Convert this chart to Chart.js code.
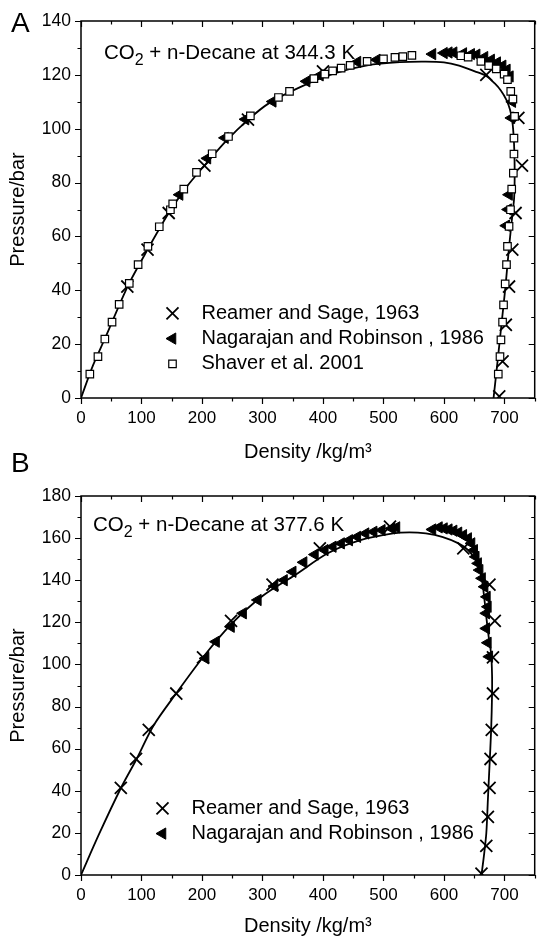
<!DOCTYPE html>
<html>
<head>
<meta charset="utf-8">
<script src="https://cdn.jsdelivr.net/npm/chart.js@4.4.1/dist/chart.umd.min.js"></script>
<style>
    html, body { margin: 0; padding: 0; background: #fff; }
    body { width: 545px; height: 938px; position: relative; overflow: hidden;
           font-family: Arial, "Liberation Sans", sans-serif; }
    canvas { position: absolute; left: 0; }
    #chartA { top: 0; }
    #chartB { top: 465px; }
    .panel-tag { position: absolute; left: 11px; font-size: 28px; line-height: 1; color: #000; }
</style>
</head>
<body>

<canvas id="chartA" width="545" height="465"></canvas>
<canvas id="chartB" width="545" height="473"></canvas>
<div class="panel-tag" style="top:9px">A</div>
<div class="panel-tag" style="top:449px">B</div>

<script>
"use strict";

/*==========================================================
    DATA
==========================================================*/

// Panel A — 344.3 K
const reamerA_density  = [76.6, 110, 145, 204, 276, 400, 670, 723, 729, 718.4, 713, 707.6, 702.3, 696.9, 691.4];
const reamerA_pressure = [41.4, 55.1, 68.7, 86.3, 103.4, 121.3, 120, 104, 86.3, 68.7, 55.1, 41.4, 27.2, 13.6, 0.6];

const nagarajanA_density  = [163, 209, 238, 272, 317, 373, 395, 457, 489,
                             581, 600, 608, 616, 632, 645, 654, 667, 678, 688, 697, 704, 709, 713, 711.5, 707.6, 706, 703];
const nagarajanA_pressure = [75.5, 89, 96.6, 103.5, 110.1, 117.6, 119.8, 124.8, 125.6,
                             127.7, 128.1, 128.3, 128.3, 128, 127.7, 127.5, 126.6, 125.6, 124.6, 123.4, 121.9, 119.4, 110, 104, 75.5, 70, 64];

const shaverA_density  = [14.6, 28, 39.4, 51.3, 63.1, 79.8, 94.4, 110.6, 129.4, 147.8, 151.6, 169.9, 190.9, 216.8, 243.8,
                          280, 326.4, 344.7, 385, 403, 416, 430, 445, 473, 500, 519, 532, 547,
                          628, 640, 661, 674, 686.5, 699.5, 705, 710.4, 714, 716.8, 715.7, 715.7, 714.7, 712,
                          710, 707.6, 705, 703.4, 701.2, 698.5, 696.9, 694.2, 692.6, 689.8];
const shaverA_pressure = [8.9, 15.4, 21.9, 28.2, 34.8, 42.6, 49.5, 56.3, 63.6, 69.9, 72.1, 77.6, 83.8, 90.7, 97.1,
                          104.8, 111.6, 113.9, 118.6, 120.3, 121.5, 122.5, 123.5, 125, 125.9, 126.5, 126.8, 127.2,
                          127.1, 126.6, 125, 123.4, 122.2, 120.3, 118.2, 113.9, 111, 104.6, 96.5, 90.6, 83.5, 77.6,
                          69.9, 63.7, 56.3, 49.5, 42.4, 34.6, 28.2, 21.6, 15.4, 8.9];

const modelA_density  = [0, 20, 40, 77, 110, 145, 175, 204, 240, 276, 311, 365, 419, 473, 527, 570, 600, 625, 651,
                         670, 684, 694, 703, 709, 713, 715.5, 716.7, 716.8, 715.9, 713.1, 707.2, 701.6, 695, 688.6, 682];
const modelA_pressure = [0, 12.2, 22.3, 41.4, 55.1, 68.7, 78.5, 86.3, 95.5, 103.3, 109.5, 115.7, 120.5, 123.5, 124.7, 124.9, 124.6, 123.4, 121.3,
                         119.6, 116.8, 114.2, 110.8, 107.2, 102.8, 96, 88, 80, 74, 68, 55.1, 41.2, 27.2, 13.6, 0];

// Panel B — 377.6 K
const reamerB_density  = [65.8, 91, 112, 157.5, 201.7, 248, 316.6, 394.8, 510.8,
                          632, 675.2, 684, 681, 681, 679, 677, 675.4, 672.6, 670, 662];
const reamerB_pressure = [41.4, 55.1, 68.9, 86.2, 103.4, 120.7, 137.9, 155.1, 165.5,
                          155.1, 137.9, 120.7, 103.4, 86.2, 68.9, 55.1, 41.4, 27.6, 13.8, 0.6];

const nagarajanB_density  = [206, 223.3, 248, 268, 292.4, 320, 335.6, 350, 368, 386.7, 403, 416.3, 430, 443.4, 456.8, 470.4, 483.8, 497.3, 513.4, 521.5,
                             581, 591.7, 600, 608, 616, 624, 632, 640, 645.6, 650, 652.6, 656.5, 659, 663, 667.2, 671, 672.6, 670, 670, 672.6, 675];
const nagarajanB_pressure = [102.9, 110.8, 117.9, 124.3, 130.6, 137.2, 140, 144, 148.5, 152.2, 154.3, 155.9, 157.5, 159, 160.6, 162.2, 163, 163.8, 164.6, 165.1,
                             164.1, 165.1, 164.6, 164.1, 163.5, 162.6, 161.4, 159.9, 157.5, 154.3, 151.1, 148, 144.8, 140.9, 136.9, 132.1, 127.4, 124.3, 117.1, 110.3, 103.7];

const modelB_density  = [0, 30, 65.8, 91, 120, 157.5, 201.7, 248, 300, 354, 408, 462, 516, 543, 570, 597, 624, 640, 654, 662,
                         667, 670, 674, 678, 679.5, 679.5, 678, 675.2, 672.6, 670, 666, 662];
const modelB_pressure = [0, 19.5, 41.2, 54.6, 71, 86.3, 103.4, 119, 132.5, 142.5, 152.8, 159, 162.2, 162.7, 162.2, 160.6, 157.5, 154.3, 148.8, 141.6,
                         130.6, 122.6, 113, 105, 95, 86, 68.9, 51.4, 35.6, 19.8, 9, 0];

// axes
const densityMax = 750;
const densityStep = 50;
const densityLabelStep = 100;
const pressureMaxA = 140;
const pressureMaxB = 180;
const pressureStep = 10;
const pressureLabelStep = 20;

const seriesNames = ["Reamer and Sage, 1963", "Nagarajan and Robinson , 1986", "Shaver et al. 2001"];


/*==========================================================
    STYLE
==========================================================*/

const FONT = "Arial, 'Liberation Sans', sans-serif";

const markerStyles = [
    { shape: "crossRot", radius: 8.5, fill: "#000", width: 1.8 },
    { shape: "triangle", radius: 6.5, fill: "#000", width: 1 },
    { shape: "rect",     radius: 5.3, fill: "#fff", width: 1.2 }
];

function toPoints(xs, ys) {
    return xs.map((x, i) => ({ x: x, y: ys[i] }));
}

function markerDataset(index, xs, ys) {
    const m = markerStyles[index];
    return {
        label: seriesNames[index],
        data: toPoints(xs, ys),
        pointStyle: m.shape,
        pointRadius: m.radius,
        pointHoverRadius: m.radius,
        pointRotation: m.shape === "triangle" ? -90 : 0,
        pointBorderWidth: m.width,
        borderColor: "#000",
        backgroundColor: m.fill,
        showLine: false,
        clip: 0,
        order: index === 2 ? 0 : (index === 0 ? 1 : 2)
    };
}

function modelDataset(xs, ys) {
    return {
        label: "model",
        data: toPoints(xs, ys),
        showLine: true,
        pointRadius: 0,
        borderColor: "#000",
        borderWidth: 1.8,
        tension: 0.3,
        fill: false,
        clip: 0,
        order: 3
    };
}


/*==========================================================
    PLUGINS
==========================================================*/

// frame with mirrored ticks (out on bottom/left, in on top/right)
const frameTicks = {
    id: "frameTicks",
    afterDraw(chart) {
        const { ctx, chartArea: a, scales } = chart;
        const x = scales.x, y = scales.y;
        ctx.save();
        ctx.strokeStyle = "#000";
        ctx.lineWidth = 1.2;
        ctx.beginPath();
        x.ticks.forEach((t) => {
            const px = Math.round(x.getPixelForValue(t.value)) + 0.5;
            const len = t.value % densityLabelStep === 0 ? 6 : 3.5;
            ctx.moveTo(px, a.bottom); ctx.lineTo(px, a.bottom + len);
            ctx.moveTo(px, a.top);    ctx.lineTo(px, a.top + len);
        });
        y.ticks.forEach((t) => {
            const py = Math.round(y.getPixelForValue(t.value)) + 0.5;
            const len = t.value % pressureLabelStep === 0 ? 6 : 3.5;
            ctx.moveTo(a.left, py);  ctx.lineTo(a.left - len, py);
            ctx.moveTo(a.right, py); ctx.lineTo(a.right - len, py);
        });
        ctx.stroke();
        ctx.lineWidth = 1.5;
        ctx.strokeRect(a.left, a.top, a.right - a.left, a.bottom - a.top);
        ctx.restore();
    }
};

function drawMarker(ctx, m, x, y) {
    const r = m.radius;
    ctx.save();
    ctx.strokeStyle = "#000";
    ctx.fillStyle = m.fill;
    ctx.lineWidth = m.width;
    ctx.beginPath();
    if (m.shape === "crossRot") {
        const o = r * Math.SQRT1_2;
        ctx.moveTo(x - o, y - o); ctx.lineTo(x + o, y + o);
        ctx.moveTo(x + o, y - o); ctx.lineTo(x - o, y + o);
        ctx.stroke();
    } else if (m.shape === "triangle") {
        ctx.moveTo(x - r, y);
        ctx.lineTo(x + r * 0.5, y - r * 0.866);
        ctx.lineTo(x + r * 0.5, y + r * 0.866);
        ctx.closePath();
        ctx.fill(); ctx.stroke();
    } else {
        const s = r * Math.SQRT1_2;
        ctx.rect(x - s, y - s, 2 * s, 2 * s);
        ctx.fill(); ctx.stroke();
    }
    ctx.restore();
}

// in-plot legend + annotation
const panelText = {
    id: "panelText",
    afterDraw(chart, args, opts) {
        const { ctx, chartArea: a } = chart;
        ctx.save();
        ctx.fillStyle = "#000";
        ctx.textBaseline = "middle";
        ctx.textAlign = "left";

        // annotation "CO2 + n-Decane at ..."
        let tx = a.left + opts.noteX;
        const ty = a.top + opts.noteY;
        ctx.font = "20.5px " + FONT;
        ctx.fillText("CO", tx, ty);
        tx += ctx.measureText("CO").width;
        ctx.font = "16px " + FONT;
        ctx.fillText("2", tx, ty + 8);
        tx += ctx.measureText("2").width;
        ctx.font = "20.5px " + FONT;
        ctx.fillText(opts.note, tx, ty);

        // legend
        ctx.font = "20px " + FONT;
        opts.legendRows.forEach((row, i) => {
            const ly = a.top + opts.legendY + i * 25.3;
            drawMarker(ctx, markerStyles[row], a.left + opts.legendX, ly);
            ctx.fillText(seriesNames[row], a.left + opts.legendX + 29, ly);
        });
        ctx.restore();
    }
};


/*==========================================================
    CHART FACTORY
==========================================================*/

function makeChart(canvasId, datasets, cfg) {
    return new Chart(document.getElementById(canvasId), {
        type: "scatter",
        data: { datasets: datasets },
        plugins: [frameTicks, panelText],
        options: {
            responsive: false,
            animation: false,
            devicePixelRatio: 1,
            layout: { padding: { top: cfg.padTop, right: 1, bottom: 0, left: 0 } },
            scales: {
                x: {
                    type: "linear",
                    min: 0,
                    max: densityMax,
                    afterFit: (s) => { s.height = cfg.xAxisHeight; },
                    border: { display: false },
                    grid: { display: false, drawTicks: false },
                    ticks: {
                        stepSize: densityStep,
                        autoSkip: false,
                        maxRotation: 0,
                        padding: 10,
                        color: "#000",
                        font: { family: FONT, size: 17 },
                        callback: (v) => (v % densityLabelStep === 0 ? v : "")
                    },
                    title: {
                        display: true,
                        text: "Density /kg/m\u00B3",
                        color: "#000",
                        font: { family: FONT, size: 20 },
                        padding: { top: 0, bottom: cfg.xTitlePad }
                    }
                },
                y: {
                    type: "linear",
                    min: 0,
                    max: cfg.yMax,
                    afterFit: (s) => { s.width = 81; },
                    border: { display: false },
                    grid: { display: false, drawTicks: false },
                    ticks: {
                        stepSize: pressureStep,
                        autoSkip: false,
                        padding: 10,
                        color: "#000",
                        font: { family: FONT, size: 17.5 },
                        callback: (v) => (v % pressureLabelStep === 0 ? v : "")
                    },
                    title: {
                        display: true,
                        text: "Pressure/bar",
                        color: "#000",
                        font: { family: FONT, size: 20 },
                        padding: { top: 6, bottom: 0 }
                    }
                }
            },
            plugins: {
                legend: { display: false },
                tooltip: { enabled: false },
                panelText: cfg.text
            }
        }
    });
}

makeChart("chartA", [
    markerDataset(0, reamerA_density, reamerA_pressure),
    markerDataset(1, nagarajanA_density, nagarajanA_pressure),
    markerDataset(2, shaverA_density, shaverA_pressure),
    modelDataset(modelA_density, modelA_pressure)
], {
    padTop: 21,
    xAxisHeight: 67,
    xTitlePad: 1,
    yMax: pressureMaxA,
    text: { note: " + n-Decane at 344.3 K", noteX: 23, noteY: 32,
            legendRows: [0, 1, 2], legendX: 91.5, legendY: 292.3 }
});

makeChart("chartB", [
    markerDataset(0, reamerB_density, reamerB_pressure),
    markerDataset(1, nagarajanB_density, nagarajanB_pressure),
    modelDataset(modelB_density, modelB_pressure)
], {
    padTop: 31,
    xAxisHeight: 63,
    xTitlePad: 0,
    yMax: pressureMaxB,
    text: { note: " + n-Decane at 377.6 K", noteX: 12, noteY: 29,
            legendRows: [0, 1], legendX: 81.5, legendY: 312.3 }
});
</script>
</body>
</html>
